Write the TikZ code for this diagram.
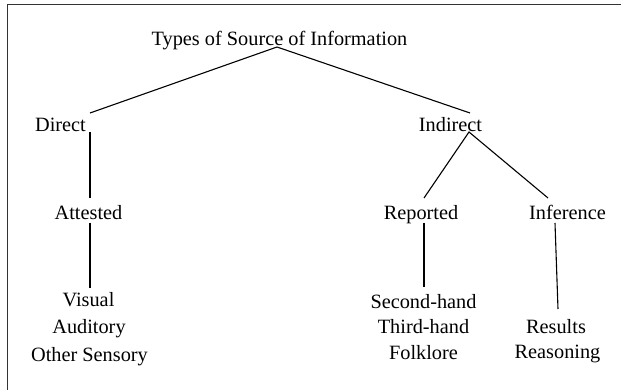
\documentclass[tikz,border=0pt]{standalone}
\usepackage{fontspec}
\setmainfont{Liberation Serif}
\begin{document}
\begin{tikzpicture}[x=1pt,y=-1pt,
  lbl/.style={anchor=base,inner sep=0pt,font=\fontsize{20.3}{24}\selectfont},
  edge/.style={draw=black,line width=1.1pt},
  frame/.style={draw=black!80,line width=1.8pt}]
\useasboundingbox (0,0) rectangle (621,390);
% frame (top and left edges)
\coordinate (fbl) at (7.5,391);
\coordinate (ftl) at (7.5,4.5);
\coordinate (ftr) at (622,4.5);
\draw[frame] (fbl) -- (ftl) -- (ftr);
% labels
\node[lbl] (title) at (279.5,46) {Types of Source of Information};
\node[lbl] (direct) at (60.5,132) {Direct};
\node[lbl] (indirect) at (450.5,132) {Indirect};
\node[lbl] (attested) at (88.5,219) {Attested};
\node[lbl] (reported) at (421,219) {Reported};
\node[lbl] (inference) at (567.5,219) {Inference};
\node[lbl] (visual) at (88.5,306) {Visual};
\node[lbl] (auditory) at (89,333) {Auditory};
\node[lbl] (other) at (89.5,361) {Other Sensory};
\node[lbl] (second) at (423.5,308) {Second-hand};
\node[lbl] (third) at (423.5,333) {Third-hand};
\node[lbl] (folk) at (423.5,359) {Folklore};
\node[lbl] (results) at (556,333) {Results};
\node[lbl] (reason) at (557.5,358) {Reasoning};
% connector end points
\coordinate (tA) at (277,47);
\coordinate (dT) at (90,113);
\coordinate (iT) at (470,113);
\coordinate (dB) at (90,132);
\coordinate (aT) at (90,198);
\coordinate (aB) at (90,223);
\coordinate (vT) at (90,288);
\coordinate (iB) at (469,132);
\coordinate (rT) at (424,198);
\coordinate (nT) at (548,198);
\coordinate (rB) at (424,223);
\coordinate (sT) at (424,287);
\coordinate (nB) at (555,223);
\coordinate (reT) at (558,309);
% connectors
\draw[edge] (dT) -- (tA) -- (iT);
\draw[edge] (dB) -- (aT);
\draw[edge] (aB) -- (vT);
\draw[edge] (rT) -- (iB) -- (nT);
\draw[edge] (rB) -- (sT);
\draw[edge] (nB) -- (reT);
\end{tikzpicture}
\end{document}
